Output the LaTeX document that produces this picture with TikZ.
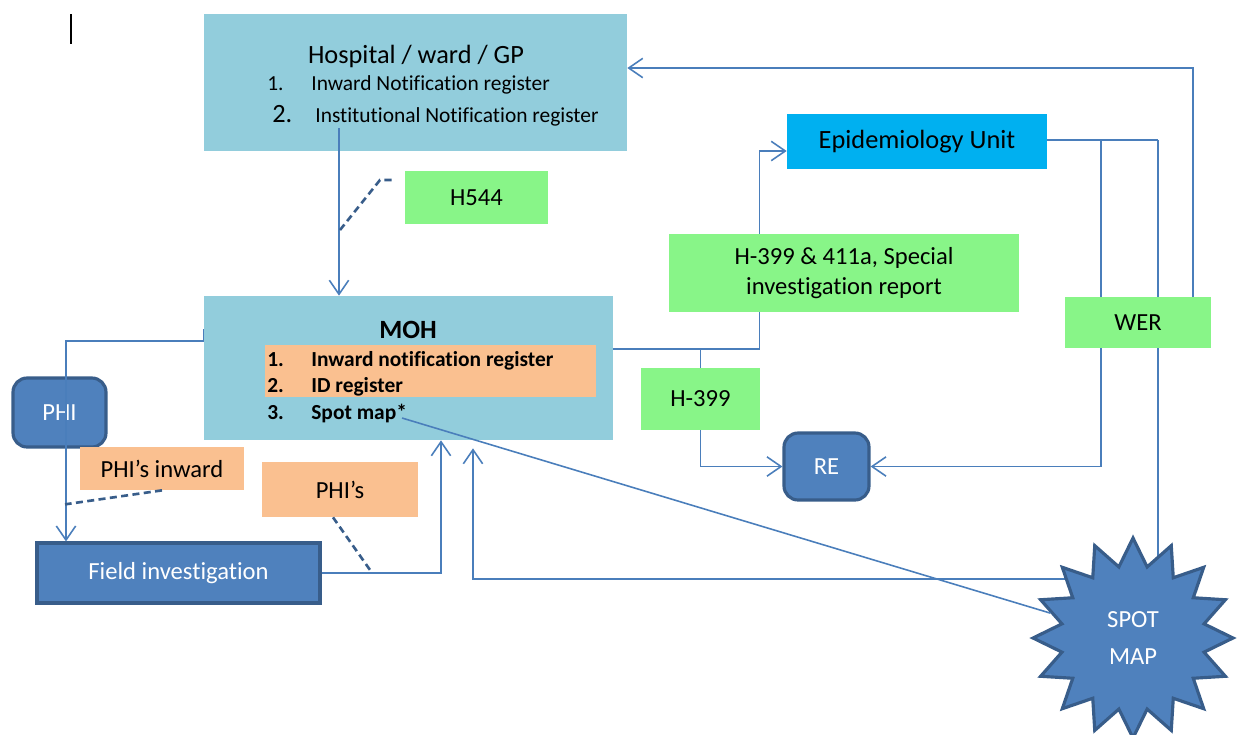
\documentclass[tikz,border=0pt]{standalone}
\usepackage{fontspec}
\setmainfont{Carlito}[Ligatures={TeX,NoCommon}]
\usetikzlibrary{arrows.meta,shapes.geometric,backgrounds,calc}
\definecolor{wardbg}{RGB}{146,205,220}
\definecolor{formgreen}{RGB}{136,245,136}
\definecolor{noteorange}{RGB}{250,192,144}
\definecolor{epibg}{RGB}{0,176,240}
\definecolor{actorblue}{RGB}{79,129,189}
\definecolor{actorline}{RGB}{56,93,138}
\definecolor{flowline}{RGB}{74,126,187}
\definecolor{calldash}{RGB}{56,93,138}
\newcommand{\headfont}{\fontsize{15}{18}\selectfont}
\newcommand{\itmfont}{\fontsize{12.2}{14}\selectfont}

\begin{document}
\begin{tikzpicture}[x=0.02cm, y=-0.02cm,
  font=\fontsize{14}{17}\selectfont, >={Straight Barb[length=8pt,width=11pt]},
  flow/.style={draw=flowline, line width=0.9pt},
  arr/.style={flow, ->},
  callout/.style={draw=calldash, line width=1.5pt, dash pattern=on 4pt off 2.5pt},
  ward/.style={fill=wardbg, inner sep=0pt},
  form/.style={fill=formgreen, align=center, inner sep=0pt},
  note/.style={fill=noteorange, align=center, inner sep=0pt},
  actor/.style={fill=actorblue, draw=actorline, line width=1.8pt, text=white, align=center, inner sep=0pt},
  item/.style={inner sep=0pt, anchor=base west, font=\itmfont}]
  \useasboundingbox (0,0) rectangle (1239,734);
  \draw[line width=0.6pt] (71,14) -- (71,44);
  % sources
  \node[ward, minimum width=8.46cm, minimum height=2.74cm] (hosp) at (415.5,82.5) {};
  \node[inner sep=0pt, anchor=base, font=\headfont] (hosptitle) at (416,63) {Hospital / ward / GP};
  \node[item] (hospn1) at (267,90) {1.};
  \node[item] (hospi1) at (311,90) {Inward Notification register};
  \node[item, font=\headfont] (hospn2) at (272,122) {2.};
  \node[item] (hospi2) at (315,122) {Institutional Notification register};
  \node[form, minimum width=2.86cm, minimum height=1.06cm] (h544) at (476.5,197.5) {H544};
  % MOH
  \node[ward, minimum width=8.18cm, minimum height=2.88cm] (moh) at (408.5,368) {};
  \node[inner sep=0pt, anchor=base, font=\headfont\bfseries] (mohtitle) at (408,338) {MOH};
  \node[note, minimum width=6.62cm, minimum height=1.04cm] (mohband) at (430.5,371) {};
  \node[item, font=\itmfont\bfseries] (mohn1) at (267,366) {1.};
  \node[item, font=\itmfont\bfseries] (mohi1) at (311,366) {Inward notification register};
  \node[item, font=\itmfont\bfseries] (mohn2) at (267,392) {2.};
  \node[item, font=\itmfont\bfseries] (mohi2) at (311,392) {ID register};
  \node[item, font=\itmfont\bfseries] (mohn3) at (267,419) {3.};
  \node[item, font=\itmfont\bfseries] (mohi3) at (311,419) {Spot map*};
  % field side
  \node[actor, rounded corners=8pt, minimum width=1.86cm, minimum height=1.38cm] (phi) at (59.5,412.5) {PHI};
  \node[note, minimum width=3.28cm, minimum height=0.86cm] (phiin) at (162,468.5) {PHI’s inward};
  \node[note, minimum width=3.12cm, minimum height=1.1cm] (phis) at (340,489.5) {PHI’s};
  \node[actor, minimum width=5.66cm, minimum height=1.2cm] (field) at (178.5,573) {Field investigation};
  % reporting side
  \node[fill=epibg, inner sep=0pt, minimum width=5.2cm, minimum height=1.1cm, font=\headfont] (epi) at (917,141.5) {Epidemiology Unit};
  \node[form, minimum width=7cm, minimum height=1.56cm, font=\fontsize{14}{17}\selectfont] (h399a) at (844,273) {H-399 \& 411a, Special\\investigation report};
  \node[form, minimum width=2.92cm, minimum height=1.02cm] (wer) at (1138,322.5) {WER};
  \node[form, minimum width=2.38cm, minimum height=1.24cm] (h399) at (700.5,399) {H-399};
  \node[actor, rounded corners=8pt, minimum width=1.7cm, minimum height=1.34cm] (re) at (826.5,466.5) {RE};
  \node[actor, star, star points=16, star point ratio=1.38, minimum size=4cm, font=\fontsize{14}{21}\selectfont] (spot) at (1133,638) {SPOT\\MAP};
  \coordinate (hospout) at (339,128);
  \coordinate (h544tip) at (340,230);
  \coordinate (phibend) at (66,341);
  \coordinate (spotref) at (402,418);
  \coordinate (spotjoin) at (1100,579);
  \coordinate (episplit) at (1101,140);
  \coordinate (epiend) at (1158,140);
  \begin{scope}[on background layer]
    \draw[arr] ([yshift=0.38cm]moh.east) -| ([xshift=-0.54cm,yshift=-0.19cm]epi.west) -- ([yshift=-0.19cm]epi.west);
    \draw[flow] (epi.east |- epiend) -- (epiend);
    \draw[flow] (epiend) -- (epiend |- spot.center);
    \draw[arr] (episplit) |- (re.east);
    \draw[arr] ([xshift=1.1cm]wer.north) |- ([yshift=0.29cm]hosp.east);
    \draw[arr] (spotjoin) -| ([xshift=1.29cm,yshift=-0.16cm]moh.south);
  \end{scope}
  \draw[arr] (hospout) -- (hospout |- moh.north);
  \draw[callout] (h544tip) -- ++(40,-50) -- ([xshift=-0.24cm,yshift=0.35cm]h544.west);
  \draw[arr] ([yshift=0.78cm]moh.west) |- (phibend) -- (phibend |- field.north);
  \draw[flow] (h399.north) -- ++(0,0.38cm);
  \draw[arr] (h399.south) |- (re.west);
  \draw[arr] (field.east) -| ([xshift=0.65cm]moh.south);
  \draw[flow] (spotref) -- (spot);
  \draw[callout] (phiin.south) -- ++(-97,14);
  \draw[callout] ([xshift=-0.14cm]phis.south) -- ++(38,54);
\end{tikzpicture}
\end{document}
